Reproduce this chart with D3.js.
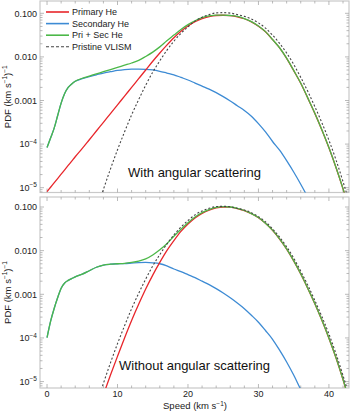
<!DOCTYPE html>
<html>
<head>
<meta charset="utf-8">
<script src="https://cdn.jsdelivr.net/npm/d3@7"></script>
<style>
body { margin: 0; background: #fff; }
svg { font-family: "Liberation Sans", Arial, Helvetica, sans-serif; }
</style>
</head>
<body>
<svg width="350" height="413"></svg>
<script>
// speed grid (km/s) shared by all curves
var speeds = [0,0.5,1,1.5,2,2.5,3,3.5,4,
  5,6,7,8,9,10,11,12,13,14,
  15,16,17,18,19,20,21,22,23,24,
  25,26,27,28,29,30,31,32,33,34,
  35,36,37,38,39,40,41,42,43];

// curve values are log10(PDF); null = not drawn
var primaryTop = [-5.09,-4.99,-4.89,-4.79,-4.69,-4.59,-4.49,-4.39,-4.29,
  -4.10,-3.90,-3.70,-3.50,-3.30,-3.10,-2.90,-2.70,-2.50,-2.30,
  -2.10,-1.91,-1.73,-1.56,-1.41,-1.29,-1.19,-1.12,-1.075,-1.05,
  -1.045,-1.055,-1.08,-1.125,-1.195,-1.295,-1.425,-1.605,-1.795,-2.035,
  -2.315,-2.605,-2.945,-3.295,-3.675,-4.085,-4.535,-5.025,-5.555];
var secondaryTop = [-4.08,-3.86,-3.64,-3.35,-3.06,-2.84,-2.70,-2.62,-2.56,
  -2.50,-2.45,-2.41,-2.37,-2.34,-2.31,-2.29,-2.28,-2.28,-2.285,
  -2.30,-2.33,-2.37,-2.41,-2.47,-2.53,-2.60,-2.67,-2.74,-2.82,
  -2.91,-3.01,-3.12,-3.23,-3.36,-3.53,-3.72,-3.94,-4.14,-4.38,
  -4.64,-4.92,-5.22,-5.55,null,null,null,null,null];
var sumTop = [-4.08,-3.86,-3.64,-3.35,-3.06,-2.84,-2.70,-2.62,-2.56,
  -2.49,-2.44,-2.39,-2.34,-2.29,-2.24,-2.19,-2.14,-2.08,-1.99,
  -1.89,-1.77,-1.63,-1.50,-1.37,-1.26,-1.17,-1.10,-1.06,-1.04,
  -1.04,-1.05,-1.07,-1.12,-1.19,-1.29,-1.42,-1.60,-1.79,-2.03,
  -2.31,-2.60,-2.94,-3.29,-3.67,-4.08,-4.53,-5.02,-5.55];
var pristine = [null,null,null,null,null,null,null,null,null,
  null,null,-5.54,-5.04,-4.57,-4.13,-3.72,-3.33,-2.98,-2.65,
  -2.35,-2.09,-1.85,-1.64,-1.46,-1.31,-1.18,-1.09,-1.03,-0.99,
  -0.985,-0.995,-1.03,-1.07,-1.13,-1.22,-1.34,-1.50,-1.69,-1.91,
  -2.17,-2.47,-2.79,-3.14,-3.51,-3.91,-4.36,-4.86,-5.40];

var primaryBottom = [null,null,null,null,null,null,null,null,null,
  null,null,null,-5.30,-4.85,-4.42,-4.00,-3.60,-3.23,-2.88,
  -2.56,-2.27,-2.00,-1.77,-1.56,-1.39,-1.25,-1.145,-1.07,-1.02,
  -1.00,-1.005,-1.035,-1.085,-1.155,-1.245,-1.375,-1.535,-1.735,-1.965,
  -2.235,-2.535,-2.865,-3.215,-3.595,-4.005,-4.455,-4.955,-5.505];
var secondaryBottom = [-3.99,-3.62,-3.33,-3.08,-2.86,-2.74,-2.68,-2.64,-2.60,
  -2.54,-2.46,-2.38,-2.33,-2.31,-2.30,-2.295,-2.285,-2.275,-2.27,
  -2.28,-2.30,-2.35,-2.42,-2.48,-2.55,-2.62,-2.70,-2.78,-2.87,
  -2.97,-3.08,-3.20,-3.33,-3.48,-3.64,-3.83,-4.03,-4.28,-4.55,
  -4.85,-5.18,-5.50,null,null,null,null,null,null];
var sumBottom = [-3.99,-3.62,-3.33,-3.08,-2.86,-2.74,-2.68,-2.64,-2.60,
  -2.54,-2.46,-2.38,-2.33,-2.31,-2.30,-2.29,-2.27,-2.24,-2.19,
  -2.10,-1.98,-1.84,-1.67,-1.51,-1.36,-1.23,-1.13,-1.06,-1.01,
  -0.99,-1.00,-1.03,-1.08,-1.15,-1.24,-1.37,-1.53,-1.73,-1.96,
  -2.23,-2.53,-2.86,-3.21,-3.59,-4.00,-4.45,-4.95,-5.50];

var seriesNames = ["Primary He", "Secondary He", "Pri + Sec He", "Pristine VLISM"];
var seriesColors = ["#e8262b", "#3d8bd4", "#4cb848", "#444"];

var yTickValues = [0.1, 0.01, 0.001, 1e-4, 1e-5];
var yTickText = [["0.100"], ["0.010"], ["0.001"], ["10", "\u22124"], ["10", "\u22125"]];
var xTickValues = [0, 10, 20, 30, 40];

var svg = d3.select("svg");
var x = d3.scaleLinear().domain([-1, 42.85]).range([40, 349]);

// draw order: secondary, primary, sum, pristine (index into seriesNames)
var drawOrder = [1, 0, 2, 3];

var panels = [
  { top: 1, bottom: 192.5, y: d3.scaleLog().domain([1e-5, 0.1]).range([187.7, 13.3]),
    title: "With angular scattering", titleY: 172,
    data: [primaryTop, secondaryTop, sumTop, pristine] },
  { top: 197, bottom: 388, y: d3.scaleLog().domain([1e-5, 0.1]).range([381.6, 207]),
    title: "Without angular scattering", titleY: 365,
    data: [primaryBottom, secondaryBottom, sumBottom, pristine] }
];

var frameColor = "#c9c9c9", tickColor = "#a8a8a8";

panels.forEach(function(p, pi) {
  var g = svg.append("g");
  var y = p.y;
  var lo = y.invert(p.bottom), hi = y.invert(p.top);

  g.append("rect")
    .attr("x", 40).attr("y", p.top)
    .attr("width", 309).attr("height", p.bottom - p.top)
    .attr("fill", "none").attr("stroke", frameColor).attr("stroke-width", 1.2);

  // x ticks (inside frame, bottom and top)
  d3.range(0, 43, 2).forEach(function(v) {
    var len = v % 10 === 0 ? 4 : 2.5;
    g.append("line").attr("x1", x(v)).attr("x2", x(v))
      .attr("y1", p.bottom).attr("y2", p.bottom - len)
      .attr("stroke", tickColor).attr("stroke-width", 0.8);
    g.append("line").attr("x1", x(v)).attr("x2", x(v))
      .attr("y1", p.top).attr("y2", p.top + len)
      .attr("stroke", tickColor).attr("stroke-width", 0.8);
  });

  // y log ticks, left and right
  for (var e = -6; e <= 0; e++) {
    for (var k = 1; k <= 9; k++) {
      var v = k * Math.pow(10, e);
      if (v < lo || v > hi) continue;
      var len = k === 1 ? 4 : 2.5;
      g.append("line").attr("x1", 40).attr("x2", 40 + len)
        .attr("y1", y(v)).attr("y2", y(v))
        .attr("stroke", tickColor).attr("stroke-width", 0.8);
      g.append("line").attr("x1", 349).attr("x2", 349 - len)
        .attr("y1", y(v)).attr("y2", y(v))
        .attr("stroke", tickColor).attr("stroke-width", 0.8);
    }
  }

  // y tick labels
  yTickValues.forEach(function(v, i) {
    var t = g.append("text")
      .attr("x", 37).attr("y", y(v) + 3.2)
      .attr("text-anchor", "end")
      .attr("font-size", 9).attr("fill", "#222");
    var parts = yTickText[i];
    t.append("tspan").text(parts[0]);
    if (parts[1]) {
      t.append("tspan").attr("dy", -3.5).attr("font-size", 6.5).text(parts[1]);
    }
  });

  // y axis label
  var ly = (p.top + p.bottom) / 2;
  var yl = g.append("text")
    .attr("transform", "translate(10.5," + ly + ") rotate(-90)")
    .attr("text-anchor", "middle")
    .attr("font-size", 9.5).attr("fill", "#222");
  yl.append("tspan").text("PDF (km s");
  yl.append("tspan").attr("dy", -3.5).attr("font-size", 6.5).text("\u22121");
  yl.append("tspan").attr("dy", 3.5).text(")");
  yl.append("tspan").attr("dy", -3.5).attr("font-size", 6.5).text("\u22121");

  // curves, clipped to the frame
  var clipId = "clip" + pi;
  svg.append("defs").append("clipPath").attr("id", clipId)
    .append("rect").attr("x", 40).attr("y", p.top)
    .attr("width", 309).attr("height", p.bottom - p.top);

  var line = d3.line()
    .defined(function(d) { return d.v != null; })
    .x(function(d) { return x(d.s); })
    .y(function(d) { return y(Math.pow(10, d.v)); })
    .curve(d3.curveMonotoneX);

  var curves = g.append("g").attr("clip-path", "url(#" + clipId + ")");
  drawOrder.forEach(function(ci) {
    var arr = p.data[ci];
    var pts = speeds.map(function(s, i) { return { s: s, v: arr[i] }; });
    curves.append("path")
      .datum(pts)
      .attr("fill", "none")
      .attr("stroke", seriesColors[ci])
      .attr("stroke-width", ci === 3 ? 1.1 : 1.3)
      .attr("stroke-dasharray", ci === 3 ? "2,2" : null)
      .attr("d", line);
  });

  // panel title
  g.append("text")
    .attr("x", 194.5).attr("y", p.titleY + 4.5)
    .attr("text-anchor", "middle")
    .attr("font-size", 13).attr("fill", "#111")
    .text(p.title);

  if (pi === 1) {
    xTickValues.forEach(function(v) {
      g.append("text").attr("x", x(v)).attr("y", p.bottom + 8.5)
        .attr("text-anchor", "middle").attr("font-size", 9).attr("fill", "#222")
        .text(v);
    });
    var xl = g.append("text").attr("x", 195).attr("y", 409)
      .attr("text-anchor", "middle").attr("font-size", 9.5).attr("fill", "#222");
    xl.append("tspan").text("Speed (km s");
    xl.append("tspan").attr("dy", -3.5).attr("font-size", 6.5).text("\u22121");
    xl.append("tspan").attr("dy", 3.5).text(")");
  }
});

// legend (top panel)
var legend = svg.append("g");
seriesNames.forEach(function(name, i) {
  var ly = 12 + i * 11.6;
  legend.append("line")
    .attr("x1", 46).attr("x2", 69).attr("y1", ly).attr("y2", ly)
    .attr("stroke", seriesColors[i])
    .attr("stroke-width", i === 3 ? 1.1 : 1.6)
    .attr("stroke-dasharray", i === 3 ? "3,2" : null);
  legend.append("text")
    .attr("x", 72).attr("y", ly + 3.2)
    .attr("font-size", 9).attr("fill", "#222")
    .text(name);
});
</script>
</body>
</html>
